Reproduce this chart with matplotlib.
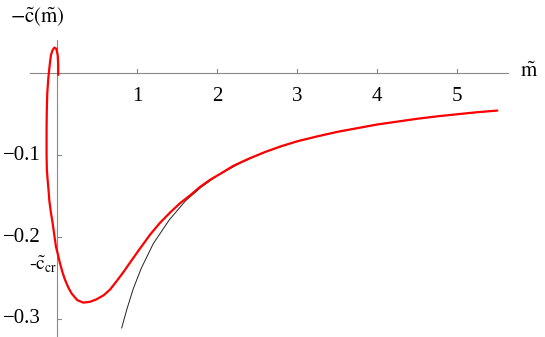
import matplotlib
matplotlib.use("Agg")
import matplotlib.pyplot as plt

plt.rcParams['mathtext.fontset'] = 'stix'
plt.rcParams['font.family'] = ['Liberation Serif', 'DejaVu Serif']

# Red curve (parametric)
red_x = [0.012, 0.012, 0.005, -0.012, -0.037, -0.060, -0.079, -0.095, -0.112, -0.125,
         -0.131, -0.134, -0.134, -0.130, -0.120, -0.108, -0.100, -0.080, -0.058, -0.038,
         -0.016, 0.010, 0.034, 0.065, 0.096, 0.140, 0.180, 0.250, 0.325, 0.410,
         0.490, 0.580, 0.660, 0.740, 0.825, 0.910, 1.030, 1.160, 1.280, 1.410,
         1.530, 1.660, 1.780, 1.910, 2.050, 2.200, 2.400, 2.600, 2.800, 3.000,
         3.250, 3.500, 3.750, 4.000, 4.250, 4.500, 4.750, 5.000, 5.250, 5.500]
red_y = [-0.002, 0.010, 0.0223, 0.030, 0.0313, 0.028, 0.0223, 0.010, -0.006, -0.024,
         -0.045, -0.070, -0.100, -0.118, -0.131, -0.144, -0.155, -0.170, -0.183, -0.197,
         -0.212, -0.222, -0.232, -0.243, -0.252, -0.262, -0.269, -0.277, -0.280, -0.279,
         -0.276, -0.271, -0.264, -0.254, -0.243, -0.231, -0.2145, -0.197, -0.183, -0.170,
         -0.159, -0.149, -0.139, -0.130, -0.122, -0.113, -0.104, -0.096, -0.089, -0.083,
         -0.077, -0.0715, -0.067, -0.0625, -0.059, -0.0555, -0.0525, -0.050, -0.0475, -0.0455]

# Black curve
blk_x = [0.805, 0.87, 0.95, 1.05, 1.2, 1.4, 1.6, 1.8, 2.0, 2.3, 2.6, 3.0, 3.5, 4.0, 4.5, 5.0, 5.5]
blk_y = [-0.311, -0.288, -0.263, -0.238, -0.208, -0.179, -0.156, -0.139, -0.125, -0.109,
         -0.096, -0.083, -0.0715, -0.0625, -0.0555, -0.050, -0.0455]

xticks = [1, 2, 3, 4, 5]
yticks = [-0.1, -0.2, -0.3]
ytick_labels = ['\u22120.1', '\u22120.2', '\u22120.3']

fig = plt.figure(figsize=(5.45, 3.37), dpi=100)
ax = fig.add_axes([0, 0, 1, 1])
ax.set_xlim(-0.716, 6.096)
ax.set_ylim(-0.322, 0.0895)
ax.axis('off')

axc = '#888888'
ax.plot([-0.342, 5.635], [0, 0], color=axc, lw=0.8, zorder=1)
ax.plot([0, 0], [-0.325, 0.041], color=axc, lw=0.8, zorder=1)

for t in xticks:
    ax.plot([t, t], [0, 0.005], color=axc, lw=0.8)
    ax.text(t, -0.0285, str(t), ha='center', va='center', fontsize=15)
for t, lab in zip(yticks, ytick_labels):
    ax.plot([0, 0.045], [t, t], color=axc, lw=0.8)
    ax.text(-0.21, t, lab, ha='right', va='center', fontsize=15)

ax.plot(blk_x, blk_y, color='#222222', lw=0.7, zorder=2)
ax.plot(red_x, red_y, color='#ff0000', lw=1.6, zorder=3,
        solid_joinstyle='round', solid_capstyle='round')

ax.text(-0.59, 0.069, r'$-\tilde{\mathrm{c}}(\tilde{\mathrm{m}})$', ha='left', va='center', fontsize=15)
ax.text(5.78, 0.001, r'$\tilde{\mathrm{m}}$', ha='left', va='center', fontsize=15)
ax.text(-0.005, -0.234, r'-$\tilde{\mathrm{c}}_{\mathrm{cr}}$', ha='right', va='center', fontsize=14)

fig.savefig('out.png', dpi=100)
